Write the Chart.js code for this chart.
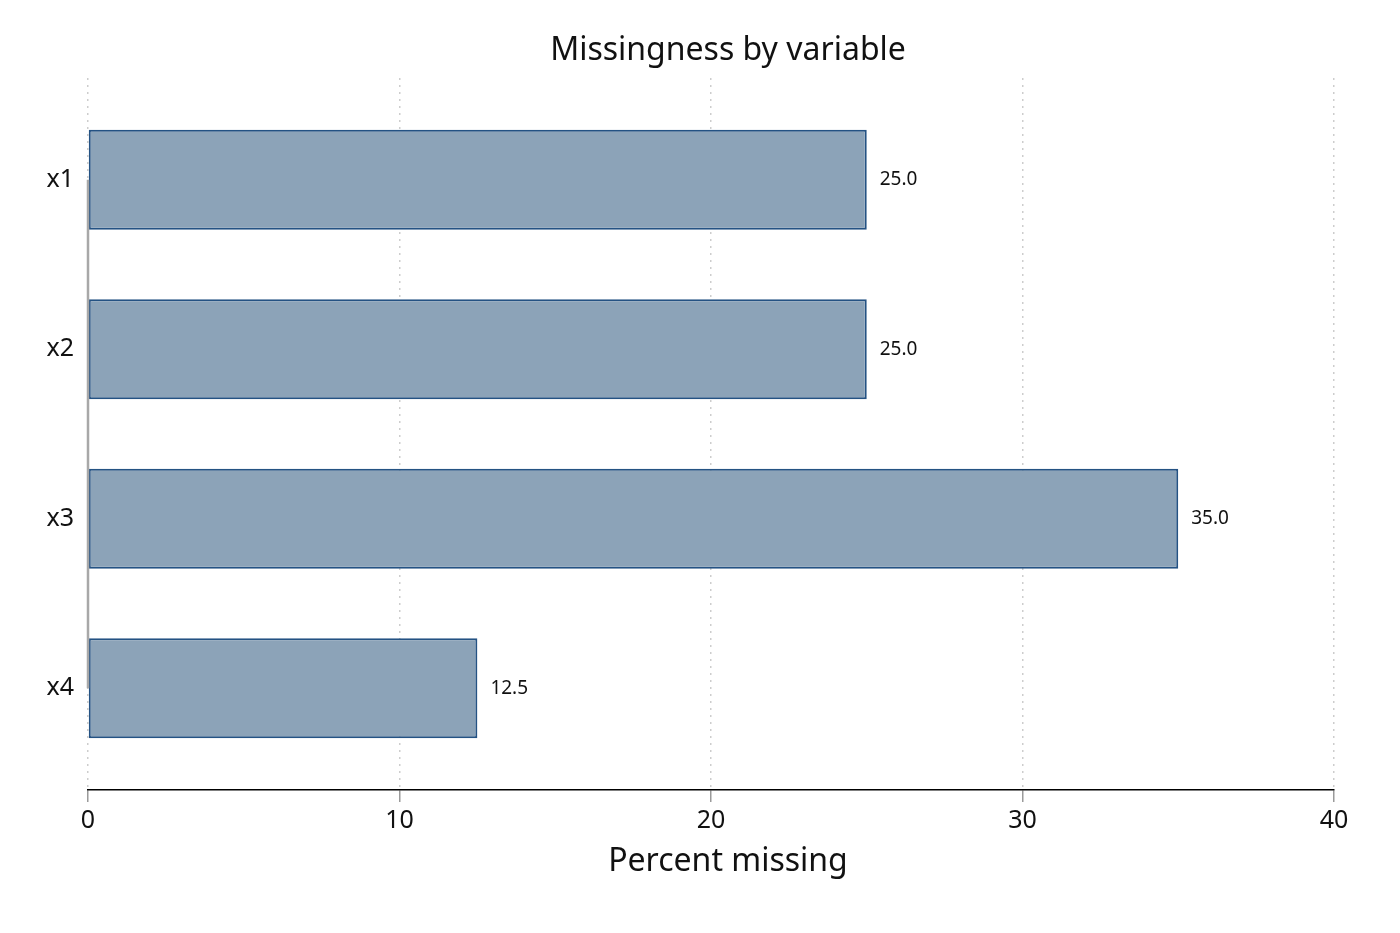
<!DOCTYPE html>
<html>
<head>
<meta charset="utf-8">
<title>Missingness by variable</title>
<script src="https://cdn.jsdelivr.net/npm/chart.js@4"></script>
<style>
  html, body { margin: 0; padding: 0; background: #fff; }
  #wrap { width: 1400px; height: 933px; position: relative; }
</style>
</head>
<body>
<div id="wrap"><canvas id="canvas"></canvas></div>
<script>
// data
const variables = ['x1', 'x2', 'x3', 'x4'];
const percentMissing = [25.0, 25.0, 35.0, 12.5];
const xTicks = [0, 10, 20, 30, 40];

const chartTitle = 'Missingness by variable';
const xTitle = 'Percent missing';
const FONT = '"Noto Sans", "Open Sans", sans-serif';

// titles are drawn by hand so they sit where the original puts them
const titlePlugin = {
    id: 'titles',
    afterDraw(chart) {
        const { ctx, chartArea } = chart;
        const cx = (chartArea.left + chartArea.right) / 2 + 17;
        ctx.save();
        ctx.fillStyle = '#111';
        ctx.textAlign = 'center';
        ctx.textBaseline = 'alphabetic';
        ctx.font = '32px ' + FONT;
        ctx.fillText(chartTitle, cx, 60);
        ctx.fillText(xTitle, cx, 871);
        ctx.restore();
    }
};

// value labels at the end of every bar
const valueLabels = {
    id: 'valueLabels',
    afterDatasetsDraw(chart) {
        const ctx = chart.ctx;
        const meta = chart.getDatasetMeta(1);
        ctx.save();
        ctx.fillStyle = '#111';
        ctx.font = '19px ' + FONT;
        ctx.textAlign = 'left';
        ctx.textBaseline = 'middle';
        meta.data.forEach((bar, i) => {
            ctx.fillText(percentMissing[i].toFixed(1), bar.x + 13, bar.y);
        });
        ctx.restore();
    }
};

const ctx = document.getElementById('canvas').getContext('2d');
new Chart(ctx, {
    type: 'bar',
    data: {
        datasets: [
            {
                // short gray axis stub from first to last category
                type: 'line',
                indexAxis: 'y',
                data: [{ x: 0, y: 1 }, { x: 0, y: variables.length }],
                borderColor: '#a8a8a8',
                borderWidth: 2.5,
                pointRadius: 0,
                clip: false,
                order: 0
            },
            {
                type: 'bar',
                indexAxis: 'y',
                data: percentMissing.map((v, i) => ({ x: v, y: i + 1 })),
                backgroundColor: '#8ca3b8',
                borderColor: '#245283',
                borderWidth: 2,
                borderSkipped: false,
                barPercentage: 0.59,
                categoryPercentage: 1,
                order: 1
            }
        ]
    },
    options: {
        indexAxis: 'y',
        responsive: true,
        maintainAspectRatio: false,
        animation: false,
        layout: { padding: { top: 78, right: 66, bottom: 0, left: 0 } },
        plugins: {
            legend: { display: false },
            tooltip: { enabled: false },
            title: { display: false }
        },
        scales: {
            x: {
                type: 'linear',
                min: 0,
                max: 40,
                offset: false,
                afterBuildTicks: (scale) => { scale.ticks = xTicks.map(v => ({ value: v })); },
                afterFit: (scale) => { scale.height = 143; },
                grid: {
                    color: '#cdcdcd',
                    lineWidth: 1.5,
                    offset: false,
                    drawTicks: true,
                    tickLength: 12,
                    tickColor: '#9a9a9a',
                    tickWidth: 1.5
                },
                border: { display: true, color: '#000', width: 1.5, dash: [2, 5] },
                ticks: {
                    color: '#111',
                    padding: 4,
                    font: { family: FONT, size: 25 },
                    maxRotation: 0
                }
            },
            y: {
                type: 'linear',
                reverse: true,
                min: 0.4,
                max: 4.6,
                offset: false,
                afterBuildTicks: (scale) => { scale.ticks = variables.map((_, i) => ({ value: i + 1 })); },
                afterFit: (scale) => { scale.width = 88; },
                grid: { display: false, drawTicks: false, offset: false },
                border: { display: false },
                ticks: {
                    color: '#111',
                    padding: 14,
                    font: { family: FONT, size: 25 },
                    callback: (v) => variables[v - 1]
                }
            }
        }
    },
    plugins: [titlePlugin, valueLabels]
});
</script>
</body>
</html>
